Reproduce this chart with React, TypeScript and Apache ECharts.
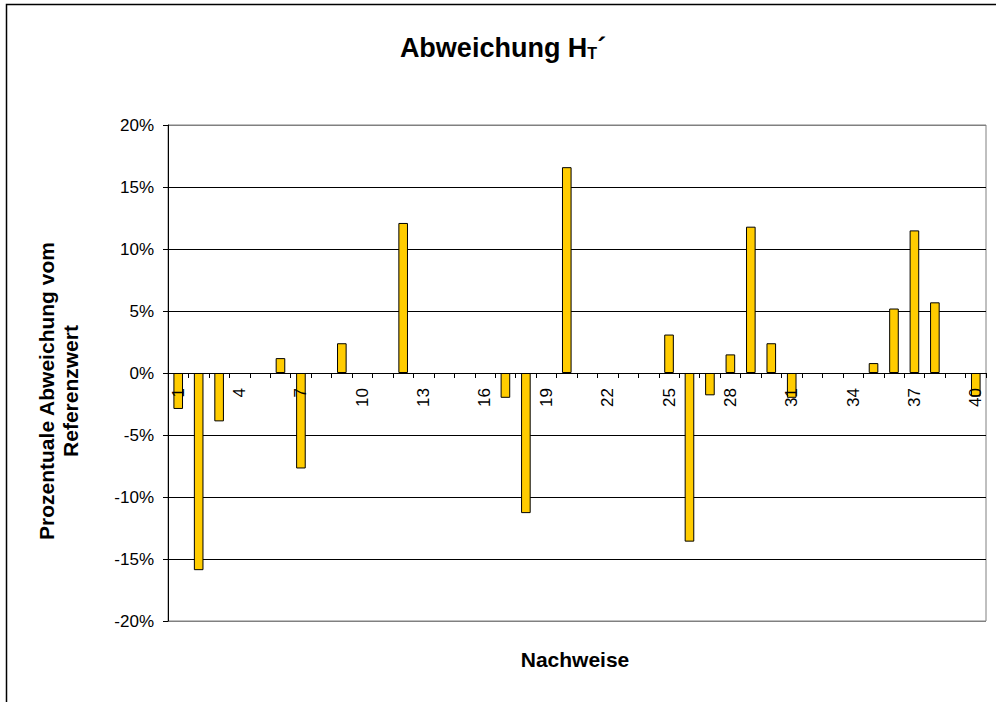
import React, { useEffect, useRef } from "react";
import * as echarts from "echarts";

const categories: string[] = Array.from({ length: 40 }, (_, i) => String(i + 1));
// Percent deviation per Nachweis (null = no bar)
const deviations: (number | null)[] = [
  -2.9, -15.9, -3.9, null, null, 1.2, -7.7, null, 2.4, null,
  null, 12.1, null, null, null, null, -2.0, -11.3, null, 16.6,
  null, null, null, null, 3.1, -13.6, -1.8, 1.5, 11.8, 2.4,
  -2.0, null, null, null, 0.8, 5.2, 11.5, 5.7, null, -1.9,
];
const yTicks: number[] = [-20, -15, -10, -5, 0, 5, 10, 15, 20];

const FONT = "'Liberation Sans', Arial, sans-serif";

export default function App() {
  const ref = useRef<HTMLDivElement>(null);
  useEffect(() => {
    if (!ref.current) return;
    const chart = echarts.init(ref.current, null, { renderer: "svg" });
    const splitColors = yTicks.map((_, i) => (i === 0 || i === yTicks.length - 1 ? "#808080" : "#000000"));
    chart.setOption({
      animation: false,
      backgroundColor: "#ffffff",
      textStyle: { fontFamily: FONT },
      grid: { left: 168, right: 10, top: 125, bottom: 81, show: true, borderColor: "#808080", borderWidth: 1 },
      xAxis: {
        type: "category",
        data: categories,
        position: "bottom",
        offset: -248,
        z: 10,
        axisLine: { onZero: false, lineStyle: { color: "#000", width: 1 } },
        axisTick: { show: true, interval: 0, length: 5, lineStyle: { color: "#000" } },
        axisLabel: { interval: 2, rotate: 90, margin: 15, fontSize: 17, color: "#000", fontFamily: FONT },
        splitLine: { show: false },
      },
      yAxis: {
        type: "value",
        min: -20,
        max: 20,
        interval: 5,
        axisLine: { show: true, lineStyle: { color: "#000", width: 1 } },
        axisTick: { show: true, length: 5, lineStyle: { color: "#000" } },
        axisLabel: { formatter: (v: number) => `${v}%`, fontSize: 17, color: "#000", margin: 14, fontFamily: FONT },
        splitLine: { show: true, lineStyle: { color: splitColors, width: 1 } },
      },
      series: [
        {
          type: "bar",
          data: deviations,
          barWidth: "47%",
          z: 2,
          itemStyle: { color: "#FFCC00", borderColor: "#000", borderWidth: 1 },
        },
      ],
      graphic: [
        {
          type: "rect",
          shape: { x: 6.5, y: 4.5, width: 1100, height: 900 },
          style: { fill: "none", stroke: "#000", lineWidth: 1.5 },
          silent: true,
        },
        {
          type: "text",
          x: 503,
          y: 48,
          style: {
            text: "{m|Abweichung H}{s|T}{m|´}",
            align: "center",
            verticalAlign: "middle",
            rich: {
              m: { fontSize: 27, fontWeight: "bold", fontFamily: FONT, fill: "#000" },
              s: { fontSize: 16, fontWeight: "bold", fontFamily: FONT, fill: "#000", padding: [11, 0, 0, 0] },
            },
          },
        },
        {
          type: "text",
          x: 575,
          y: 659,
          style: {
            text: "Nachweise",
            align: "center",
            verticalAlign: "middle",
            fontSize: 21,
            fontWeight: "bold",
            fontFamily: FONT,
            fill: "#000",
          },
        },
        {
          type: "text",
          x: 58,
          y: 391,
          rotation: Math.PI / 2,
          style: {
            text: "Prozentuale Abweichung vom\nReferenzwert",
            align: "center",
            verticalAlign: "middle",
            fontSize: 21,
            lineHeight: 24,
            fontWeight: "bold",
            fontFamily: FONT,
            fill: "#000",
          },
        },
      ],
    });
    return () => chart.dispose();
  }, []);
  return (
    <div
      ref={ref}
      style={{ position: "fixed", left: 0, top: 0, width: 996, height: 702 }}
    />
  );
}
